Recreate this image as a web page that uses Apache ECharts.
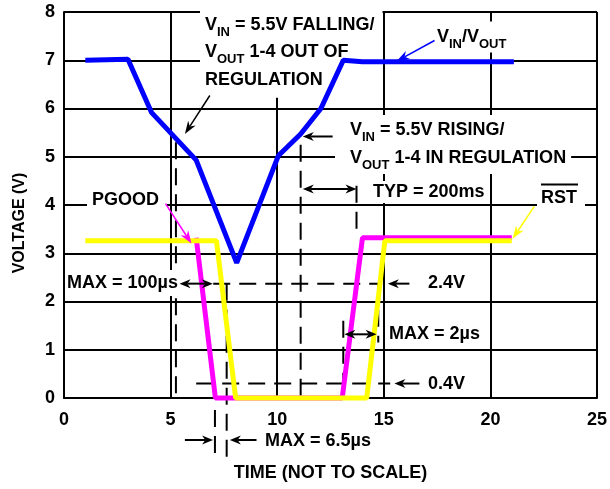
<!DOCTYPE html>
<html>
<head>
<meta charset="utf-8">
<script src="https://cdn.jsdelivr.net/npm/echarts@6/dist/echarts.min.js"></script>
<style>
  html, body { margin: 0; padding: 0; background: #fff; }
  #chart { width: 610px; height: 489px; }
</style>
</head>
<body>
<div id="chart"></div>
<script>
// traces, [time, volts]
const vinVout = [[1, 7], [3, 7.02], [4.1, 5.92], [6.2, 4.93], [8.1, 2.8], [10.05, 5.02],
  [11.1, 5.47], [12.05, 6], [13.1, 7], [14, 6.97], [21.1, 6.97]];
const pgood = [[6.2, 3.32], [7.1, 0], [13.05, 0], [14, 3.32], [21, 3.32]];
const rst = [[1, 3.26], [7.15, 3.26], [8.05, 0], [14.2, 0], [15.05, 3.26], [21, 3.26]];

// dashed guide lines, data coords
const dashed = [
  [[5.25, 5.3], [5.25, 0]],
  [[7.63, 2.37], [7.63, -1.28]],
  [[7.08, -0.25], [7.08, -1.28]],
  [[7.0, 2.37], [14.9, 2.37]],
  [[6.2, 0.3], [15.3, 0.3]],
  [[11.1, 5.25], [11.1, 0]],
  [[13.72, 4.4], [13.72, 3.35]],
  [[13.1, 1.6], [13.1, 0]],
  [[14.74, 2.37], [14.74, 1.15]]
];

// arrows: from, to, color, both ends
const arrows = [
  { from: [12.6, 5.42], to: [11.2, 5.42] },
  { from: [11.2, 4.33], to: [13.72, 4.33], both: true },
  { from: [5.42, 2.37], to: [6.98, 2.37], both: true },
  { from: [16.2, 2.37], to: [15.19, 2.37] },
  { from: [13.15, 1.32], to: [14.66, 1.32], both: true },
  { from: [16.67, 0.3], to: [15.5, 0.3] },
  { from: [5.67, -0.87], to: [6.99, -0.87] },
  { from: [9.03, -0.87], to: [7.78, -0.87] },
  { from: [6.84, 6.27], to: [5.67, 5.47], thin: true },
  { from: [17.38, 7.41], to: [15.6, 6.98], color: '#0000ff', thin: true },
  { from: [4.76, 4.03], to: [5.98, 3.2], color: '#ff00ff', thin: true },
  { from: [22.06, 3.97], to: [21.04, 3.3], color: '#ffff00', thin: true }
];

const FONT_FAMILY = '"Liberation Sans", Arial, Helvetica, sans-serif';
const FONT = 'bold 18px ' + FONT_FAMILY;

const chart = echarts.init(document.getElementById('chart'));

function lineSeries(name, data, color) {
  return {
    name: name,
    type: 'line',
    data: data,
    showSymbol: false,
    symbol: 'none',
    clip: false,
    z: 3,
    lineStyle: { color: color, width: 5 }
  };
}

const option = {
  animation: false,
  backgroundColor: '#fff',
  grid: { left: 64, right: 13, top: 12, bottom: 91, containLabel: false, outerBoundsMode: 'none' },
  xAxis: {
    type: 'value',
    min: 0, max: 25, interval: 5,
    name: 'TIME (NOT TO SCALE)',
    nameLocation: 'middle',
    nameGap: 66,
    nameTextStyle: { color: '#000', fontWeight: 'bold', fontSize: 18, fontFamily: FONT_FAMILY },
    axisLine: { lineStyle: { color: '#000', width: 2 } },
    axisTick: { show: false },
    axisLabel: { color: '#000', fontWeight: 'bold', fontSize: 18, fontFamily: FONT_FAMILY, margin: 13 },
    splitLine: { lineStyle: { color: '#000', width: 2 } }
  },
  yAxis: {
    type: 'value',
    min: 0, max: 8, interval: 1,
    name: 'VOLTAGE (V)',
    nameLocation: 'middle',
    nameRotate: 90,
    nameGap: 36,
    nameTextStyle: { color: '#000', fontWeight: 'bold', fontSize: 16, fontFamily: FONT_FAMILY, padding: [0, 36, 0, 0] },
    axisLine: { lineStyle: { color: '#000', width: 2 } },
    axisTick: { show: false },
    axisLabel: { color: '#000', fontWeight: 'bold', fontSize: 18, fontFamily: FONT_FAMILY, margin: 9, padding: [5, 0, 0, 0] },
    splitLine: { lineStyle: { color: '#000', width: 2 } }
  },
  series: [
    lineSeries('VIN/VOUT', vinVout, '#0000ff'),
    lineSeries('PGOOD', pgood, '#ff00ff'),
    lineSeries('RST', rst, '#ffff00')
  ]
};
chart.setOption(option);

const px = (p) => chart.convertToPixel({ xAxisIndex: 0, yAxisIndex: 0 }, p);

const rich = {
  s: { fontSize: 13, fontWeight: 'bold', fontFamily: FONT_FAMILY, verticalAlign: 'bottom', lineHeight: 18 }
};

// text label: left of text, centre of first line, padding [t, r, b, l]
function label(left, cy, text, pad, lh) {
  lh = lh || 27;
  return {
    type: 'text', z: 1,
    x: left - pad[3], y: cy - lh / 2 - pad[0],
    style: {
      text: text, rich: rich, font: FONT, fill: '#000', lineHeight: lh,
      backgroundColor: '#fff', padding: pad, verticalAlign: 'top', align: 'left'
    }
  };
}

function arrowEls(a) {
  const color = a.color || '#000';
  const w = a.thin ? 1.5 : 2;
  const len = a.thin ? 13 : 11, half = 4.5;
  const p1 = px(a.from), p2 = px(a.to);
  const dx = p2[0] - p1[0], dy = p2[1] - p1[1];
  const d = Math.hypot(dx, dy), ux = dx / d, uy = dy / d;
  const head = (tip, sx, sy) => {
    const bx = tip[0] - sx * len, by = tip[1] - sy * len;
    const nx = tip[0] - sx * len * 0.7, ny = tip[1] - sy * len * 0.7;
    return {
      type: 'polygon', z: 4,
      shape: { points: [tip, [bx - sy * half, by + sx * half], [nx, ny], [bx + sy * half, by - sx * half]] },
      style: { fill: color }
    };
  };
  const els = [head(p2, ux, uy)];
  let s = p1;
  if (a.both) {
    els.push(head(p1, -ux, -uy));
    s = [p1[0] + ux * len * 0.7, p1[1] + uy * len * 0.7];
  }
  const e = [p2[0] - ux * len * 0.7, p2[1] - uy * len * 0.7];
  els.push({
    type: 'line', z: 4,
    shape: { x1: s[0], y1: s[1], x2: e[0], y2: e[1] },
    style: { stroke: color, lineWidth: w }
  });
  return els;
}

const graphics = [];

dashed.forEach(function (seg) {
  const a = px(seg[0]), b = px(seg[1]);
  graphics.push({
    type: 'line', z: 1,
    shape: { x1: a[0], y1: a[1], x2: b[0], y2: b[1] },
    style: { stroke: '#000', lineWidth: 2, lineDash: [17, 9] }
  });
});

graphics.push(label(205, 25, 'V{s|IN} = 5.5V FALLING/\nV{s|OUT} 1-4 OUT OF\nREGULATION', [2, 8, 4, 5], 27.5));
graphics.push(label(437, 37, 'V{s|IN}/V{s|OUT}', [2, 4, 2, 4]));
graphics.push(label(350, 130, 'V{s|IN} = 5.5V RISING/\nV{s|OUT} 1-4 IN REGULATION', [1, 5, 2, 15], 28));
graphics.push(label(373, 192, 'TYP = 200ms', [0, 4, 0, 8], 22));
graphics.push(label(541, 198, 'RST', [4, 8, 6, 4], 22));
graphics.push(label(92, 200, 'PGOOD', [2, 8, 6, 5], 22));
graphics.push(label(67, 283, 'MAX = 100\u00b5s', [2, 1, 2, 2], 22));
graphics.push(label(428, 283, '2.4V', [2, 2, 2, 4], 22));
graphics.push(label(389, 334, 'MAX = 2\u00b5s', [4, 4, 4, 3], 22));
graphics.push(label(428, 384, '0.4V', [2, 2, 2, 4], 22));
graphics.push(label(265, 441, 'MAX = 6.5\u00b5s', [2, 2, 2, 2], 22));

// overbar on RST
graphics.push({
  type: 'line', z: 2,
  shape: { x1: 541, y1: 184.5, x2: 578, y2: 184.5 },
  style: { stroke: '#000', lineWidth: 2 }
});

arrows.forEach(function (a) { graphics.push.apply(graphics, arrowEls(a)); });

chart.setOption({ graphic: graphics });
</script>
</body>
</html>
